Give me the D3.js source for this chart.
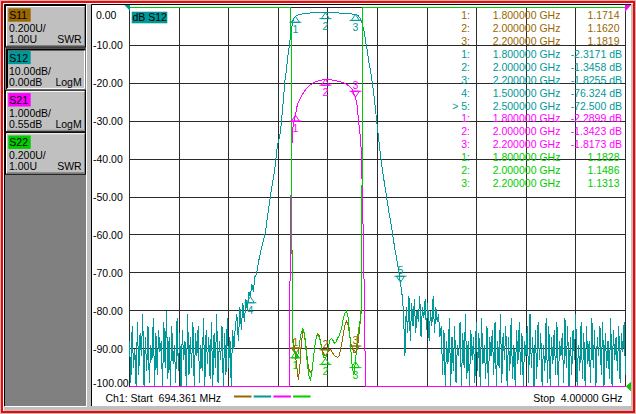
<!DOCTYPE html>
<html>
<head>
<meta charset="utf-8">
<script src="https://cdnjs.cloudflare.com/ajax/libs/d3/7.8.5/d3.min.js"></script>
<title>S-parameter sweep</title>
<style>
  body { margin: 0; background: #c0c0c0; }
  svg { display: block; font-family: "Liberation Sans", Arial, sans-serif; font-size: 10.5px; }
  text { white-space: pre; }
</style>
</head>
<body>
<div id="graph"></div>
<script>

// sweep, GHz
var startGHz = 0.694361, stopGHz = 4.0;

// channel setup, one entry per trace: S11, S12, S21, S22
var traceNames = ["S11", "S12", "S21", "S22"];
var scaleText = ["0.200U/", "10.00dB/", "1.000dB/", "0.200U/"];
var refText = ["1.00U", "0.00dB", "0.55dB", "1.00U"];
var formatText = ["SWR", "LogM", "LogM", "SWR"];
var refValue = [1.0, 0, 0.55, 1.0];
var perDiv = [0.2, 10, 1, 0.2];
var refDiv = [0, 10, 10, 0];          // reference line, in divisions from the bottom

var dbTicks = [0, -10, -20, -30, -40, -50, -60, -70, -80, -90, -100];

// S12 in dB: noise floor below the band, filter skirt, noise floor above
var s12NoiseLoGHz = [0.694361, 1.39];
var s12NoiseLo = [-88, -99, -84, -95, -90, -100, -83, -97, -86, -92, -81, -100, -87, -96, -84, -99, -89, -93, -82, -100,
  -86, -97, -85, -91, -88, -100, -83, -95, -80, -98, -87, -100, -84, -94, -89, -99, -82, -96, -86, -100,
  -85, -93, -88, -100, -81, -97, -87, -95, -83, -100, -86, -92, -84, -99, -89, -96, -82, -100, -85, -94,
  -87, -98, -83, -100, -86, -95, -81, -99, -88, -93, -84, -100, -86, -97, -82, -95, -87, -100, -85, -90];
var s12GHz = [1.40, 1.41, 1.42, 1.43, 1.44, 1.45, 1.46, 1.47, 1.48, 1.49, 1.50, 1.51, 1.52, 1.53,
  1.54, 1.55, 1.56, 1.58, 1.60, 1.62, 1.64, 1.66, 1.68, 1.70, 1.71, 1.72, 1.73, 1.74, 1.75, 1.76,
  1.77, 1.78, 1.79, 1.80, 1.82, 1.84, 1.86, 1.88, 1.90, 1.93, 1.96, 2.00, 2.04, 2.07, 2.10, 2.13,
  2.16, 2.18, 2.20, 2.21, 2.22, 2.23, 2.24, 2.25, 2.26, 2.27, 2.28, 2.29, 2.30, 2.32, 2.34, 2.36,
  2.38, 2.40, 2.42, 2.44, 2.46, 2.48, 2.50, 2.51, 2.52];
var s12dB = [-84, -81, -88, -79, -85, -78, -83, -77, -80, -75, -76.324, -73, -75, -71,
  -70.5, -68, -66, -62.5, -59.3, -53.4, -48, -43.4, -36.6, -33, -28.8, -24.3, -19.5, -16.5, -12.7, -10,
  -6.8, -4.2, -2.9, -2.3171, -1.95, -1.75, -1.60, -1.50, -1.45, -1.40, -1.37, -1.3458, -1.36, -1.40, -1.47, -1.56,
  -1.66, -1.74, -1.8255, -1.95, -2.25, -2.7, -3.5, -5.0, -6.5, -9.5, -11.5, -14.5, -16.5, -22, -29.2, -36.5,
  -43, -48, -53.2, -57.8, -63, -67.5, -72.5, -75.5, -80];
var s12NoiseHiGHz = [2.53, 4.0];
var s12NoiseHi = [-92, -79, -86, -76, -88, -78, -84, -77, -86, -80, -83, -76, -87, -79, -82, -77, -85, -78, -88, -80,
  -84, -76, -86, -79, -83, -81, -87, -84,
  -97, -85, -100, -88, -94, -82, -100, -87, -96, -84, -99, -89, -92, -83, -100, -86, -95, -81, -98, -88,
  -100, -85, -93, -87, -99, -83, -96, -86, -100, -82, -94, -89, -98, -84, -100, -87, -92, -85, -97, -83,
  -100, -88, -95, -81, -99, -86, -93, -84, -100, -87, -96, -82, -98, -89, -100, -85, -94, -83, -97, -86,
  -100, -88, -92, -84, -99, -81, -95, -87, -100, -85, -98, -83, -93, -86, -100, -89, -96, -82, -99, -84,
  -100, -87, -94, -85, -97, -83, -100, -88, -92, -86, -99, -82, -95, -84, -100, -87, -97, -85, -93, -81,
  -100, -89, -96, -83, -98, -86, -100, -84, -94, -88, -99, -82, -95, -85, -100, -87, -92, -84, -97, -83,
  -100, -86, -95, -88, -98, -82, -100, -85, -93, -87, -96, -84, -99, -86, -91, -83, -97];

// S21 in dB
var s21GHz = [0.694361, 1.758, 1.761, 1.769, 1.776, 1.778, 1.79, 1.80, 1.81, 1.82, 1.83, 1.84, 1.86,
  1.88, 1.90, 1.92, 1.94, 1.96, 1.98, 2.00, 2.02, 2.04, 2.06, 2.08, 2.10, 2.13, 2.16, 2.18, 2.20, 2.21,
  2.22, 2.23, 2.235, 2.24, 2.25, 2.26, 2.266, 2.27, 4.0];
var s21dB = [-80, -80, -8.0, -4.6, -3.8, -2.75, -2.45, -2.2899, -2.07, -1.95, -1.87, -1.78, -1.66,
  -1.56, -1.49, -1.44, -1.40, -1.38, -1.36, -1.3423, -1.34, -1.36, -1.37, -1.39, -1.41, -1.45, -1.53, -1.62, -1.8173, -2.0,
  -2.4, -2.75, -3.0, -3.3, -5.0, -7.2, -9.2, -80, -80];

// S11 and S22 as SWR
var swrGHz = [0.694361, 1.77, 1.78, 1.79, 1.80, 1.81, 1.82, 1.83, 1.84, 1.85, 1.86, 1.87, 1.88, 1.89,
  1.90, 1.91, 1.92, 1.93, 1.94, 1.95, 1.96, 1.97, 1.98, 1.99, 2.00, 2.01, 2.02, 2.03, 2.04, 2.05, 2.06,
  2.07, 2.08, 2.09, 2.10, 2.11, 2.12, 2.13, 2.14, 2.15, 2.16, 2.17, 2.18, 2.19, 2.20, 2.21, 2.22, 2.23,
  2.24, 2.25, 2.26, 4.0];
var s11Swr = [9.9, 9.9, 1.27, 1.217, 1.1714, 1.095, 1.032, 1.111, 1.233, 1.291, 1.28,
  1.217, 1.138, 1.095, 1.074, 1.085, 1.148, 1.217, 1.265, 1.28, 1.265,
  1.228, 1.19, 1.169, 1.162, 1.169, 1.185, 1.196, 1.19, 1.175, 1.164,
  1.159, 1.153, 1.159, 1.19, 1.233, 1.28, 1.323, 1.344, 1.328, 1.28,
  1.228, 1.201, 1.18, 1.1819, 1.19, 1.243, 1.323, 1.402, 9.9, 9.9, 9.9];
var s22Swr = [9.9, 9.9, 1.256, 1.19, 1.1828, 1.148, 1.18, 1.243, 1.286, 1.307, 1.28,
  1.201, 1.116, 1.058, 1.032, 1.074, 1.148, 1.217, 1.259, 1.275, 1.259,
  1.222, 1.18, 1.153, 1.1486, 1.169, 1.212, 1.243, 1.254, 1.243, 1.228,
  1.233, 1.254, 1.265, 1.286, 1.317, 1.36, 1.386, 1.397, 1.37, 1.296,
  1.19, 1.095, 1.063, 1.1313, 1.217, 1.296, 1.339, 1.429, 9.9, 9.9, 9.9];

// markers and their readouts
var mkGHz = [1.8, 2.0, 2.2];
var s12MkGHz = [1.8, 2.0, 2.2, 1.5, 2.5];
var s11Mk = [1.1714, 1.1620, 1.1819];
var s12Mk = [-2.3171, -1.3458, -1.8255, -76.324, -72.500];
var s21Mk = [-2.2899, -1.3423, -1.8173];
var s22Mk = [1.1828, 1.1486, 1.1313];
var activeMarker = 5;

// ---------------------------------------------------------------
var colors = ["#996600", "#009999", "#ff00ff", "#00cc00"];
var gridColor = "#2b2b2b";
var fmt = d3.formatLocale({ decimal: ".", thousands: ",", grouping: [3], currency: ["", ""], minus: "-" }).format;

var gx0 = 129.5, gx1 = 625.5, gy0 = 7.5, gy1 = 386.5;

var svg = d3.select("#graph").append("svg").attr("width", 636).attr("height", 414);

// window frame
svg.append("rect").attr("width", 636).attr("height", 414).attr("fill", "#c0c0c0");
svg.append("rect").attr("x", 5).attr("y", 5).attr("width", 81).attr("height", 401).attr("fill", "#808080");
svg.append("path").attr("d", "M4.5,406V4.5H86").attr("fill", "none").attr("stroke", "#000");
svg.append("path").attr("d", "M86.5,5V406.5H5").attr("fill", "none").attr("stroke", "#fff");
svg.append("rect").attr("x", 92).attr("y", 5).attr("width", 539).attr("height", 401).attr("fill", "#fff");
svg.append("path").attr("d", "M91.5,406V4.5H631").attr("fill", "none").attr("stroke", "#000");
svg.append("path").attr("d", "M3.5,411V3.5H633").attr("fill", "none").attr("stroke", "#fff");
svg.append("rect").attr("x", 2).attr("y", 2).attr("width", 632).attr("height", 410)
    .attr("fill", "none").attr("stroke", "#ff0000").attr("stroke-width", 2);

// trace buttons on the left
var buttons = svg.selectAll("g.btn").data(traceNames).enter().append("g")
    .attr("class", "btn")
    .attr("transform", function (d, i) { return "translate(6," + (6 + 42.4 * i) + ")"; });
buttons.append("rect").attr("width", 79).attr("height", 40.5).attr("fill", "#c0c0c0");
buttons.each(function (d, i) {
    var g = d3.select(this);
    if (i == 1) {
        g.append("path").attr("d", "M1,40.5V1H79.5").attr("fill", "none").attr("stroke", "#000").attr("stroke-width", 2);
        g.append("path").attr("d", "M1,40V40H78.5V2").attr("fill", "none").attr("stroke", "#fff");
    } else {
        g.append("rect").attr("x", -0.5).attr("y", -0.5).attr("width", 80).attr("height", 41.5)
            .attr("fill", "none").attr("stroke", "#000");
        g.append("path").attr("d", "M0.5,40V0.5H78.5").attr("fill", "none").attr("stroke", "#fff");
        g.append("path").attr("d", "M1,39.5H78.5V1").attr("fill", "none").attr("stroke", "#808080");
    }
});
buttons.append("rect").attr("x", 2.3).attr("y", 2.3).attr("width", 22.4).attr("height", 13.4)
    .attr("fill", function (d, i) { return colors[i]; });
buttons.append("text").attr("x", 3.3).attr("y", 13.3).text(function (d) { return d; });
buttons.append("text").attr("x", 3).attr("y", 26.3).text(function (d, i) { return scaleText[i]; });
buttons.append("text").attr("x", 3).attr("y", 37.3).text(function (d, i) { return refText[i]; });
buttons.append("text").attr("x", 75.7).attr("y", 37.3).attr("text-anchor", "end")
    .text(function (d, i) { return formatText[i]; });

// scales
var x = d3.scaleLinear().domain([startGHz, stopGHz]).range([gx0, gx1]);
var yScales = traceNames.map(function (d, i) {
    return d3.scaleLinear()
        .domain([refValue[i] - refDiv[i] * perDiv[i], refValue[i] + (10 - refDiv[i]) * perDiv[i]])
        .range([gy1, gy0]).clamp(true);
});
var yDb = yScales[1];

// grid
var divX = d3.scaleLinear().domain([0, 10]).range([gx0, gx1]);
var gridX = svg.append("g").attr("transform", "translate(0," + gy1 + ")")
    .call(d3.axisBottom(divX).ticks(10).tickSize(-(gy1 - gy0)).tickFormat("").offset(0));
var gridY = svg.append("g").attr("transform", "translate(" + gx0 + ",0)")
    .call(d3.axisLeft(yDb).tickValues(dbTicks).tickSize(-(gx1 - gx0)).tickFormat("").offset(0));
[gridX, gridY].forEach(function (g) {
    g.select(".domain").remove();
    g.selectAll("line").attr("stroke", gridColor).attr("shape-rendering", "crispEdges");
});

// dB labels of the active trace
svg.selectAll("text.ylab").data(dbTicks).enter().append("text")
    .attr("class", "ylab")
    .attr("x", function (d) { return d < 0 ? 93 : 96; })
    .attr("y", function (d) { return Math.min(Math.max(yDb(d) + 3.9, 19), gy1); })
    .text(function (d) { return fmt(".2f")(d); });

// traces
function evenly(range, values) {
    return values.map(function (v, i) {
        return [range[0] + i * (range[1] - range[0]) / (values.length - 1), v];
    });
}
function zip(f, v) { return f.map(function (d, i) { return [d, v[i]]; }); }

var traces = [
    zip(swrGHz, s11Swr),
    evenly(s12NoiseLoGHz, s12NoiseLo).concat(zip(s12GHz, s12dB), evenly(s12NoiseHiGHz, s12NoiseHi)),
    zip(s21GHz, s21dB),
    zip(swrGHz, s22Swr)
];

traces.forEach(function (pts, i) {
    var line = d3.line()
        .x(function (d) { return x(d[0]); })
        .y(function (d) { return yScales[i](d[1]); });
    svg.append("path")
        .datum(pts)
        .attr("d", line)
        .attr("fill", "none")
        .attr("stroke", colors[i])
        .attr("stroke-width", 1)
        .attr("shape-rendering", "crispEdges");
});

// reference position flags
svg.append("path")
    .attr("d", "M" + (gx0 - 5) + "," + (yDb(0) - 2.5) + "H" + (gx0 + 0.5) + "V" + (yDb(0) + 3.5) + "Z")
    .attr("fill", colors[1]);
svg.append("path")
    .attr("d", "M" + (gx1 + 5.5) + "," + (yScales[2](0.55) - 2.5) + "H" + (gx1 - 0.5) + "V" + (yScales[2](0.55) + 4.5) + "Z")
    .attr("fill", colors[2]);
[0, 3].forEach(function (i) {
    var yr = yScales[i](refValue[i]);
    svg.append("path")
        .attr("d", "M" + (gx1 + 0.5) + "," + yr + "L" + (gx1 + 5.5) + "," + (yr - 4.5) + "V" + (yr + 4.5) + "Z")
        .attr("fill", colors[i]);
});

// markers
var markerSets = [
    { t: 0, f: mkGHz, v: s11Mk },
    { t: 1, f: s12MkGHz, v: s12Mk },
    { t: 2, f: mkGHz, v: s21Mk },
    { t: 3, f: mkGHz, v: s22Mk }
];
// markers whose flag sits above the trace (S11 all, S12 #5, S21 #3)
var markerAbove = { "0-1": true, "0-2": true, "0-3": true, "1-5": true, "2-3": true };

markerSets.forEach(function (m) {
    m.f.forEach(function (f, k) {
        var id = k + 1;
        var px = x(f), py = yScales[m.t](m.v[k]);
        var up = markerAbove[m.t + "-" + id];
        var s = up ? -1 : 1;
        var g = svg.append("g").attr("transform", "translate(" + px + "," + py + ")");
        g.append("path")
            .attr("d", "M0,0L-4," + (6 * s) + "H4Z M-6," + (6 * s) + "H6")
            .attr("fill", "none").attr("stroke", colors[m.t]);
        g.append("text")
            .attr("x", 0).attr("y", up ? -8 : 17)
            .attr("text-anchor", "middle")
            .attr("fill", colors[m.t])
            .text(id);
    });
});

// marker readout table
var rows = [];
markerSets.forEach(function (m) {
    m.f.forEach(function (f, k) {
        rows.push({ t: m.t, id: k + 1, f: f, v: m.v[k] });
    });
});
var isSwr = function (t) { return formatText[t] == "SWR"; };
var rowG = svg.selectAll("g.row").data(rows).enter().append("g")
    .attr("class", "row")
    .attr("fill", function (d) { return colors[d.t]; })
    .attr("transform", function (d, i) { return "translate(0," + (19.1 + 12.92 * i) + ")"; });
rowG.append("text").attr("x", 470).attr("text-anchor", "end")
    .text(function (d) { return (d.t == 1 && d.id == activeMarker ? "> " : "") + d.id + ":"; });
rowG.append("text").attr("x", 492.7)
    .text(function (d) { return fmt(".6f")(d.f) + " GHz"; });
rowG.append("text").attr("text-anchor", "end")
    .attr("x", function (d) { return isSwr(d.t) ? 619.5 : 622; })
    .text(function (d) { return fmt(".5r")(d.v) + (isSwr(d.t) ? "" : " dB"); });

// active trace tag
svg.append("rect").attr("x", 131.7).attr("y", 11.7).attr("width", 35.6).attr("height", 11.6).attr("fill", colors[1]);
svg.append("text").attr("x", 132.5).attr("y", 21.3).text("dB " + traceNames[1]);

// status line
svg.append("text").attr("x", 105.5).attr("y", 402)
    .text("Ch1: Start  " + fmt(".3f")(startGHz * 1000) + " MHz");
svg.append("text").attr("x", 622.6).attr("y", 402).attr("text-anchor", "end")
    .text("Stop  " + fmt(".5f")(stopGHz) + " GHz");
svg.selectAll("line.key").data(traceNames).enter().append("line")
    .attr("class", "key")
    .attr("x1", function (d, i) { return 234 + 19.7 * i; })
    .attr("x2", function (d, i) { return 251.5 + 19.7 * i; })
    .attr("y1", 396.5).attr("y2", 396.5)
    .attr("stroke", function (d, i) { return colors[i]; })
    .attr("stroke-width", 2);

</script>
</body>
</html>
